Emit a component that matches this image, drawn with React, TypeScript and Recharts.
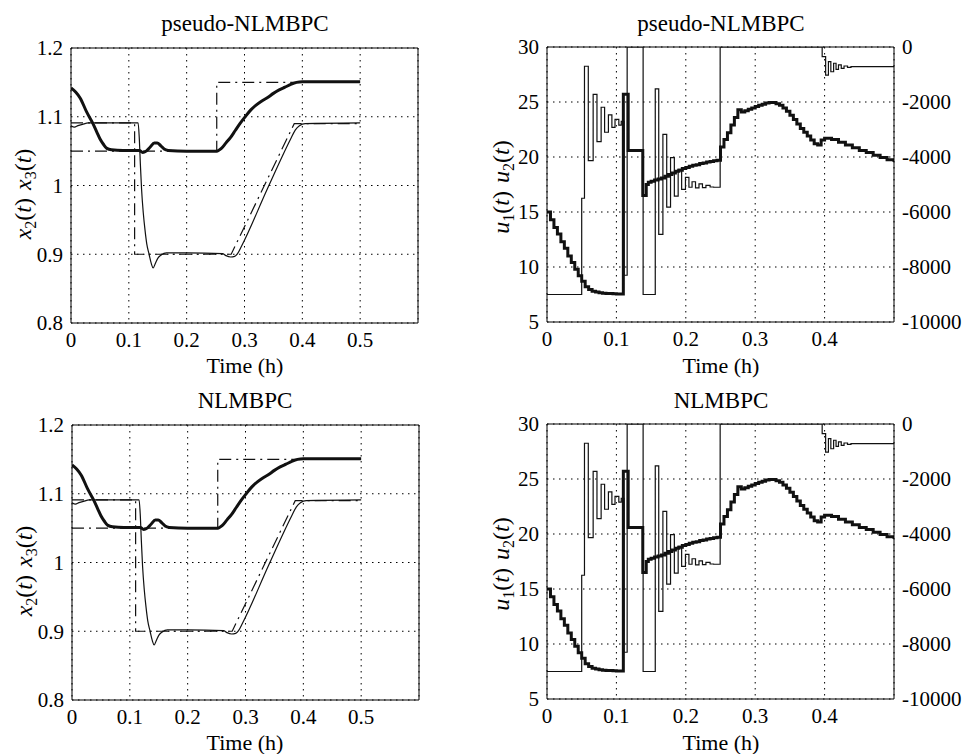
import { LineChart, Line, XAxis, YAxis, CartesianGrid, ReferenceLine } from 'recharts'

type Pt = [number, number]

// states (both controllers give practically the same traces)
const x3Out: Pt[] = [
  [0, 1.142], [0.008, 1.136], [0.016, 1.127], [0.027, 1.107], [0.038, 1.09], [0.045, 1.077],
  [0.05, 1.068], [0.056, 1.06], [0.062, 1.054], [0.07, 1.052], [0.09, 1.051], [0.118, 1.051],
  [0.124, 1.048], [0.13, 1.05], [0.137, 1.056], [0.144, 1.062], [0.149, 1.062], [0.155, 1.058],
  [0.161, 1.053], [0.168, 1.051], [0.2, 1.05], [0.252, 1.05], [0.26, 1.054], [0.268, 1.062],
  [0.276, 1.07], [0.284, 1.08], [0.293, 1.091], [0.302, 1.101], [0.311, 1.11], [0.32, 1.117],
  [0.33, 1.123], [0.34, 1.128], [0.35, 1.134], [0.36, 1.139], [0.37, 1.143], [0.38, 1.147],
  [0.39, 1.15], [0.4, 1.151], [0.5, 1.151],
]
const x2Out: Pt[] = [
  [0, 1.087], [0.006, 1.085], [0.012, 1.087], [0.02, 1.089], [0.03, 1.091], [0.116, 1.091],
  [0.118, 1.07], [0.12, 1.03], [0.122, 0.995], [0.125, 0.96], [0.128, 0.935], [0.131, 0.915],
  [0.135, 0.9], [0.139, 0.886], [0.142, 0.88], [0.146, 0.887], [0.15, 0.894], [0.156, 0.899],
  [0.165, 0.902], [0.2, 0.902], [0.262, 0.901], [0.268, 0.898], [0.276, 0.896], [0.283, 0.897],
  [0.288, 0.901], [0.295, 0.912], [0.34, 0.996], [0.38, 1.068], [0.388, 1.081], [0.395, 1.087],
  [0.405, 1.09], [0.5, 1.091],
]
const x3Ref: Pt[] = [[0, 1.05], [0.252, 1.05], [0.252, 1.15], [0.5, 1.15]]
const x2Ref: Pt[] = [[0, 1.091], [0.11, 1.091], [0.11, 0.9], [0.277, 0.9], [0.386, 1.09], [0.5, 1.09]]

// inputs: u1 on the left axis, u2 on the right axis (sampled, held)
const u1: Pt[] = [
  [0, 15.0], [0.005, 14.3], [0.01, 13.6], [0.015, 13.0], [0.02, 12.3], [0.025, 11.7], [0.03, 11.0],
  [0.035, 10.4], [0.04, 9.8], [0.045, 9.2], [0.05, 8.7], [0.055, 8.2], [0.06, 7.95], [0.065, 7.8],
  [0.07, 7.72], [0.075, 7.66], [0.08, 7.62], [0.085, 7.6], [0.09, 7.58], [0.095, 7.56], [0.1, 7.55],
  [0.105, 7.54], [0.11, 25.7], [0.117, 20.6], [0.138, 16.5], [0.143, 17.5], [0.146, 17.7],
  [0.15, 17.8], [0.155, 17.9], [0.16, 18.0], [0.165, 18.1], [0.17, 18.25], [0.175, 18.4],
  [0.18, 18.55], [0.185, 18.7], [0.19, 18.8], [0.195, 18.95], [0.2, 19.05], [0.205, 19.15],
  [0.21, 19.25], [0.215, 19.3], [0.22, 19.4], [0.225, 19.45], [0.23, 19.55], [0.235, 19.6],
  [0.24, 19.65], [0.245, 19.7], [0.25, 20.9], [0.255, 21.6], [0.26, 22.2], [0.265, 22.9],
  [0.27, 23.6], [0.275, 24.3], [0.28, 24.1], [0.285, 24.2], [0.29, 24.35], [0.295, 24.45],
  [0.3, 24.6], [0.305, 24.7], [0.31, 24.8], [0.315, 24.9], [0.32, 24.95], [0.325, 24.95],
  [0.33, 24.85], [0.335, 24.7], [0.34, 24.45], [0.345, 24.15], [0.35, 23.8], [0.355, 23.4],
  [0.36, 23.0], [0.365, 22.6], [0.37, 22.25], [0.375, 21.9], [0.38, 21.55], [0.385, 21.2],
  [0.39, 21.1], [0.395, 21.55], [0.4, 21.7], [0.405, 21.7], [0.41, 21.6], [0.42, 21.35],
  [0.43, 21.1], [0.44, 20.85], [0.45, 20.6], [0.46, 20.4], [0.47, 20.15], [0.48, 19.95],
  [0.49, 19.75], [0.5, 19.55],
]
const u2: Pt[] = [
  [0, -9000], [0.05, -5500], [0.054, -700], [0.0595, -4130], [0.0665, -1720], [0.072, -3440],
  [0.078, -2190], [0.083, -3100], [0.0885, -2470], [0.0935, -2920], [0.098, -2630], [0.1035, -2840],
  [0.107, -2700], [0.111, -8300], [0.1155, 0], [0.1385, -9000], [0.156, -1520], [0.161, -6810],
  [0.167, -3180], [0.1725, -5820], [0.178, -4020], [0.1835, -5420], [0.189, -4450], [0.194, -5180],
  [0.1995, -4740], [0.2045, -5100], [0.209, -4900], [0.214, -5120], [0.219, -4980], [0.224, -5110],
  [0.229, -5030], [0.235, -5090], [0.24, -5100], [0.2495, 0], [0.3965, -350], [0.4015, -1020],
  [0.4055, -530], [0.409, -900], [0.413, -590], [0.4165, -810], [0.42, -650], [0.424, -780],
  [0.428, -690], [0.433, -740], [0.438, -710], [0.5, -715],
]

const xTicksX = [0, 0.1, 0.2, 0.3, 0.4, 0.5]
const yTicksX = [0.8, 0.9, 1, 1.1, 1.2]
const xTicksU = [0, 0.1, 0.2, 0.3, 0.4]
const yTicksU1 = [5, 10, 15, 20, 25, 30]
const yTicksU2 = [-10000, -8000, -6000, -4000, -2000, 0]
const titles = ['pseudo-NLMBPC', 'NLMBPC']

const rows = (pts: Pt[]) => pts.map(([t, v]) => ({ t, v }))

const SERIF = "'Liberation Serif', 'DejaVu Serif', 'Times New Roman', Times, serif"
const tickStyle = { fill: '#000', fontSize: 21, style: { fontFamily: SERIF } }
const INK = '#111'
const GRID = '1.5 4.5'
const DASHDOT = '12 5 2 5'

function StatePanel({ left, top }: { left: number; top: number }) {
  return (
    <div style={{ position: 'absolute', left, top }}>
      <LineChart width={480} height={377} margin={{ top: 48, right: 62, left: 11, bottom: 24 }}>
        <CartesianGrid stroke="#000" strokeDasharray={GRID} />
        <XAxis type="number" dataKey="t" domain={[0, 0.6]} ticks={xTicksX} allowDataOverflow
          height={30} tickLine={false} axisLine={{ stroke: '#000' }} tick={tickStyle} tickMargin={3} />
        <YAxis type="number" domain={[0.8, 1.2]} ticks={yTicksX} allowDataOverflow width={60}
          tickLine={false} axisLine={{ stroke: '#000' }} tick={tickStyle} />
        <ReferenceLine x={0.6} stroke="#000" />
        <ReferenceLine y={1.2} stroke="#000" />
        <Line data={rows(x3Ref)} dataKey="v" type="linear" stroke={INK} strokeWidth={1.2}
          strokeDasharray={DASHDOT} dot={false} isAnimationActive={false} />
        <Line data={rows(x2Ref)} dataKey="v" type="linear" stroke={INK} strokeWidth={1.2}
          strokeDasharray={DASHDOT} dot={false} isAnimationActive={false} />
        <Line data={rows(x2Out)} dataKey="v" type="monotoneX" stroke={INK} strokeWidth={1.2}
          dot={false} isAnimationActive={false} />
        <Line data={rows(x3Out)} dataKey="v" type="monotoneX" stroke={INK} strokeWidth={3}
          dot={false} isAnimationActive={false} />
      </LineChart>
    </div>
  )
}

function InputPanel({ left, top }: { left: number; top: number }) {
  return (
    <div style={{ position: 'absolute', left, top }}>
      <LineChart width={491} height={377} margin={{ top: 47, right: 7, left: 7, bottom: 25 }}>
        <CartesianGrid stroke="#000" strokeDasharray={GRID} yAxisId="l" />
        <XAxis type="number" dataKey="t" domain={[0, 0.5]} ticks={xTicksU} allowDataOverflow
          height={30} tickLine={false} axisLine={{ stroke: '#000' }} tick={tickStyle} tickMargin={3} />
        <YAxis yAxisId="l" type="number" domain={[5, 30]} ticks={yTicksU1} allowDataOverflow width={60}
          tickLine={false} axisLine={{ stroke: '#000' }} tick={tickStyle} />
        <YAxis yAxisId="r" orientation="right" type="number" domain={[-10000, 0]} ticks={yTicksU2}
          allowDataOverflow width={70} tickLine={false} axisLine={{ stroke: '#000' }} tick={tickStyle} />
        <ReferenceLine y={30} yAxisId="l" stroke="#000" />
        <Line yAxisId="r" data={rows(u2)} dataKey="v" type="stepAfter" stroke={INK} strokeWidth={1.2}
          dot={false} isAnimationActive={false} />
        <Line yAxisId="l" data={rows(u1)} dataKey="v" type="stepAfter" stroke={INK} strokeWidth={3}
          dot={false} isAnimationActive={false} />
      </LineChart>
    </div>
  )
}

function YLabel({ x, y, sym }: { x: number; y: number; sym: string }) {
  const part = (n: string) => [
    <tspan key={n + 'a'} fontStyle="italic">{sym}</tspan>,
    <tspan key={n + 'b'} fontSize={16} dy={5}>{n}</tspan>,
    <tspan key={n + 'c'} dy={-5}>(</tspan>,
    <tspan key={n + 'd'} fontStyle="italic">t</tspan>,
    <tspan key={n + 'e'}>)</tspan>,
  ]
  const [a, b] = sym === 'x' ? ['2', '3'] : ['1', '2']
  return (
    <text transform={`translate(${x},${y}) rotate(-90)`} textAnchor="middle"
      style={{ fontFamily: SERIF }} fontSize={24} fill="#000">
      {part(a)}
      <tspan dx={2}> </tspan>
      {part(b)}
    </text>
  )
}

export default function App() {
  return (
    <div style={{ position: 'absolute', left: 0, top: 0, width: 971, height: 754, background: '#fff' }}>
      <StatePanel left={0} top={0} />
      <StatePanel left={1} top={377} />
      <InputPanel left={480} top={0} />
      <InputPanel left={480} top={377} />
      <svg width={971} height={754} style={{ position: 'absolute', left: 0, top: 0, pointerEvents: 'none' }}>
        {titles.map((t, i) => (
          <g key={t} style={{ fontFamily: SERIF }} fill="#000" textAnchor="middle">
            <text x={245} y={31 + i * 377} fontSize={23}>{t}</text>
            <text x={721} y={31 + i * 377} fontSize={23}>{t}</text>
            <text x={245} y={373 + i * 377} fontSize={22}>Time (h)</text>
            <text x={721} y={373 + i * 377} fontSize={22}>Time (h)</text>
          </g>
        ))}
        <YLabel x={31} y={194} sym="x" />
        <YLabel x={32} y={571} sym="x" />
        <YLabel x={509} y={187} sym="u" />
        <YLabel x={509} y={564} sym="u" />
      </svg>
    </div>
  )
}
